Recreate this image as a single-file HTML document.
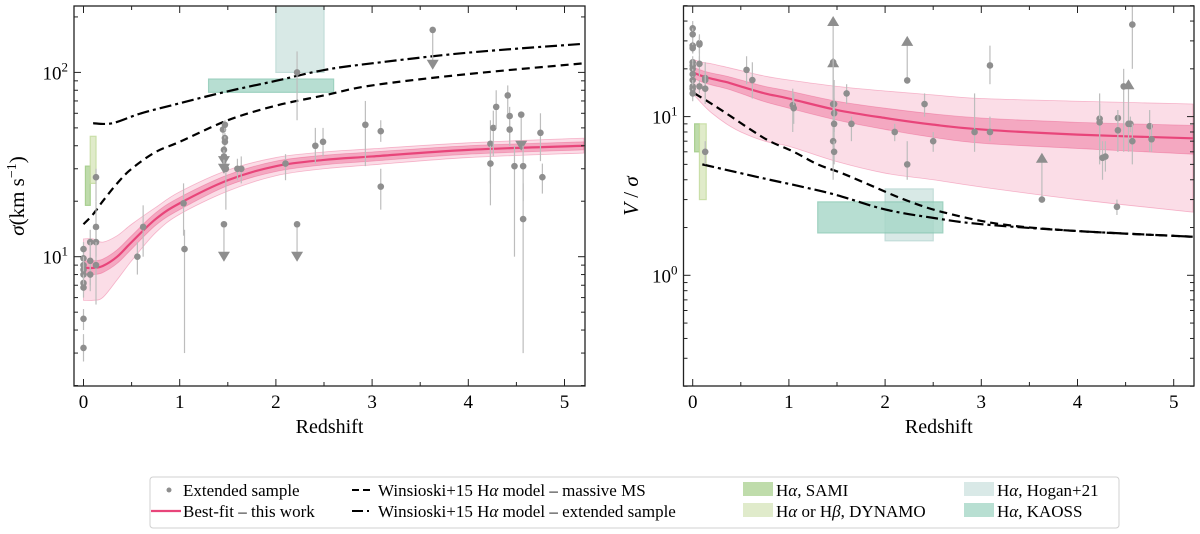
<!DOCTYPE html>
<html><head><meta charset="utf-8"><style>
body{margin:0;background:#fff;}
svg{display:block;font-family:"Liberation Serif",serif;}
</style></head><body>
<svg id="fig" width="1200" height="534" viewBox="0 0 1200 534"></svg>
<script>
// ---------- data ----------
const zGrid=[0,0.1,0.2,0.35,0.5,0.75,1,1.5,2,2.5,3,4,5.2];
const sigFit=[8.7,8.7,8.9,10,12,16,19.5,26,31,33.5,35,38,40];
const sigMassive=[15,17,20,25,30,37,42,55,66,75,85,98,112];
const zDD=[0.1,0.3,0.6,1,1.5,2,2.5,3,4,5.2];
const sigExt=[53,53,60,68,79,90,103,112,128,143];
const sigInLo=[8.0,8.0,8.2,9.2,11,14.8,18,24.3,29,31.5,33,36,38];
const sigInHi=[9.5,9.5,9.7,10.9,13,17.3,21,27.8,33,35.5,37,40,42];
const sigOutLo=[5.8,5.8,6.0,7.5,9.5,13.5,17,22.7,27.5,30,31.5,34.5,36.5];
const sigOutHi=[12.5,12.5,12,13,15,18.5,22.5,29.5,34.5,37,38.5,41.5,44];
const sigPts=[[0,11,10,12,0],[0,9.8,9,10.5,0],[0,9,8,10,0],[0,8.5,7.5,9.5,0],[0,8,7,9,0],[0,7.2,6.5,8,0],[0,6.8,6,7.5,0],[0,4.6,4,5.2,0],[0,3.2,2.7,3.8,0],
[0.07,12,10,14,0],[0.07,9.5,6.5,12,0],[0.07,8,7,9,0],[0.13,27,20,30,0],[0.13,14.5,12,20,0],[0.13,12,10,14,0],[0.13,9,5.5,12,0],
[0.56,10,8,12,0],[0.62,14.5,10,19,0],[1.04,19.5,13,25,0],[1.05,11,3,14,0],
[1.45,49,45,52,0],[1.47,52,48,55,0],[1.47,44,40,47,0],[1.47,42,38,45,0],[1.48,30,18,35,0],[1.46,38,33,40,1],[1.46,35,30,38,1],[1.46,15,10,15,1],
[1.6,30,26,34,0],[1.64,30,25,35,0],[2.1,32,26,36,0],[2.22,100,55,130,0],[2.22,15,10,15,1],[2.41,40,32,50,0],[2.49,42,35,50,0],
[2.93,52,31,70,0],[3.09,48,42,55,0],[3.09,24,18,30,0],[3.63,170,110,170,1],
[4.23,41,19,55,0],[4.23,32,25,40,0],[4.26,50,35,62,0],[4.29,65,50,80,0],[4.41,75,60,85,0],[4.43,58,40,65,0],[4.43,49,40,55,0],[4.48,31,10,40,0],[4.55,59,40,60,1],[4.57,31,20,40,0],[4.57,16,3,25,0],[4.75,47,33,60,0],[4.77,27,22,32,0]];
const vFit=[19,18,17.3,16.5,15.5,14,13,11,9.8,8.9,8.3,7.7,7.3];
const vInLo=[17.5,16.5,15.8,15,14,12.4,11.3,9.5,8.3,7.4,6.8,6.3,5.8];
const vInHi=[20.5,19.5,18.8,18,17,15.5,14.5,12.5,11.3,10.4,9.8,9.2,8.8];
const vOutLo=[14,12,10.5,9,8,7,6.5,5.2,4.4,4,3.6,3,2.5];
const vOutHi=[23,22,21.5,20.5,19.5,18,17,15.5,14.5,13.7,13,12.5,12];
const zVM=[0.02,0.2,0.4,0.6,0.8,1.05,1.3,1.55,1.8,2.2,2.6,3.2,4,5.2];
const vMassive=[14,12,10,8.3,7,6,5,4.4,3.8,3,2.5,2.1,1.9,1.75];
const zVE=[0.1,0.5,0.8,1.15,1.5,2,2.5,3,4,5.2];
const vExt=[5,4.4,4,3.6,3.2,2.6,2.3,2.1,1.9,1.75];
const vPts=[[0,36,32,40,0],[0,33,30,36,0],[0,28,25,30,0],[0,27,25,29,0],[0,22,20,24,0],[0,21,19,23,0],[0,20,18,22,0],[0,18.5,17,20,0],[0,17,15,18,0],[0,15.5,14,17,0],[0,15,13.5,16.5,0],[0,14,12.5,15,0],
[0.07,29,25,33,0],[0.07,28.5,20,32,0],[0.07,21.5,18,24,0],[0.07,15.5,14,17,0],[0.13,17.5,13,22,0],[0.13,17,15,19,0],[0.13,15,12,18,0],[0.13,6,5,7,0],
[0.56,19.7,16,24,0],[0.62,17,13,22,0],[1.04,11.8,8,15,0],[1.05,11.3,9,14,0],
[1.46,22,13,22,2],[1.46,12,4,40,2],[1.47,12,8,17,0],[1.47,10.5,8,13,0],[1.47,9,7,11,0],[1.46,7,6,8,0],[1.47,6,5,7,0],
[1.6,14,12,16,0],[1.65,9,7,10,0],[2.1,8,7,9,0],[2.23,16.9,16.9,30,2],[2.23,5,4,7,0],[2.41,12,10,14,0],[2.5,7,6,8,0],
[2.93,8,6,14,0],[3.09,8,7,10,0],[3.09,21,16,28,0],[3.63,3,3,5.5,2],
[4.23,9.7,6,14,0],[4.23,9.2,5,12,0],[4.26,5.5,4,7,0],[4.29,5.6,4.5,7,0],[4.41,2.7,2.4,3,0],[4.42,9.8,6,11,0],[4.42,8.2,6,11,0],[4.48,15.5,6,20,0],[4.53,9,6,16,2],[4.55,9,8,10,0],[4.57,7,5,9,0],[4.57,38,20,50,0],[4.75,8.7,6,11,0],[4.77,7.2,6,9,0]];
const boxesL=[["sami",0.02,0.07,19,31],["dynamo",0.07,0.13,25,45],["hogan",2.0,2.5,100,230],["kaoss",1.3,2.6,78,92]];
const boxesR=[["sami",0.02,0.07,6,9],["dynamo",0.07,0.14,3,9],["hogan",2.0,2.5,1.65,3.5],["kaoss",1.3,2.6,1.85,2.9]];
const boxCol={sami:["#b8d8a2","#9fca85",0.9],dynamo:["#dde9c5","#c5dca0",0.9],hogan:["#cfe4e1","#b5d5d0",0.8],kaoss:["#a6d7c7","#86c6b1",0.8]};

// ---------- helpers ----------
const svg=document.getElementById('fig');
const NS="http://www.w3.org/2000/svg";
function mk(tag,attrs,parent){const e=document.createElementNS(NS,tag);for(const k in attrs)e.setAttribute(k,attrs[k]);(parent||svg).appendChild(e);return e;}
function smooth(P,start){ // Catmull-Rom through points
  let d=(start?'M':'L')+P[0][0]+','+P[0][1];
  for(let i=0;i<P.length-1;i++){const p0=P[Math.max(i-1,0)],p1=P[i],p2=P[i+1],p3=P[Math.min(i+2,P.length-1)];
    d+=`C${p1[0]+(p2[0]-p0[0])/6},${p1[1]+(p2[1]-p0[1])/6} ${p2[0]-(p3[0]-p1[0])/6},${p2[1]-(p3[1]-p1[1])/6} ${p2[0]},${p2[1]}`;}
  return d;}
const L={x0:83.5,sx:96.2,y1:256.7,sy:184.3,v1:10,left:74,right:585,top:6,bot:386,vmin:2,vmax:230};
const R={x0:692.7,sx:96.2,y1:275.3,sy:158.7,v1:1,left:683.5,right:1194,top:6,bot:386,vmin:0.2,vmax:50};

function drawPanel(P,name,fit,inLo,inHi,outLo,outHi,zA,mA,zB,eB,pts,boxes,ylab,ylabX,decs){
  const X=z=>P.x0+P.sx*z;
  const Y=v=>P.y1-P.sy*Math.log10(v/P.v1);
  const g=mk('g',{});
  
  
  const clipId='clip'+name;
  const cp=mk('clipPath',{id:clipId},g);mk('rect',{x:P.left,y:P.top,width:P.right-P.left,height:P.bot-P.top},cp);
  const pg=mk('g',{'clip-path':'url(#'+clipId+')'},g);
  boxes.forEach(b=>{const c=boxCol[b[0]];
    const r=mk('rect',{x:X(b[1]),y:Y(b[4]),width:X(b[2])-X(b[1]),height:Y(b[3])-Y(b[4]),fill:c[0],stroke:c[1],'stroke-width':1.2,opacity:c[2]},pg);
    
    });
  const band=(lo,hi,fill,nm)=>{
    const top=zGrid.map((z,i)=>[X(z),Y(hi[i])]);
    const bot=zGrid.map((z,i)=>[X(z),Y(lo[i])]).reverse();
    const e=mk('path',{d:smooth(top,true)+smooth(bot,false)+'Z',fill:fill,stroke:'rgba(232,69,122,0.35)','stroke-width':0.8},pg);
    
    };
  band(outLo,outHi,'rgba(240,120,160,0.25)','fit-outer-band');
  band(inLo,inHi,'rgba(232,69,122,0.35)','fit-inner-band');
  const line=(zs,vs,attrs,nm)=>{const d=smooth(zs.map((z,i)=>[X(z),Y(vs[i])]),true);
    const e=mk('path',Object.assign({d:d,fill:'none'},attrs),pg);
    
    };
  line(zGrid,fit,{stroke:'#e8457a','stroke-width':2.2},'best-fit-line');
  line(zA,mA,{stroke:'#000','stroke-width':2.2,'stroke-dasharray':'8,5'},'massive-ms-model');
  line(zB,eB,{stroke:'#000','stroke-width':2.2,'stroke-dasharray':'12,4,3,4'},'extended-model');
  pts.forEach(p=>{const x=X(p[0]);
    mk('line',{x1:x,x2:x,y1:Y(p[2]),y2:Y(p[3]),stroke:'#bdbdbd','stroke-width':1.2},pg);
    if(p[4]===0){const c=mk('circle',{cx:x,cy:Y(p[1]),r:3.3,fill:'#8e8e8e'},pg);
      
      }
    else if(p[4]===1){const y=Y(p[2]);const t=mk('path',{d:`M${x-6},${y-5}L${x+6},${y-5}L${x},${y+5}Z`,fill:'#8e8e8e'},pg);
      if(p[1]!==p[2])mk('circle',{cx:x,cy:Y(p[1]),r:3.3,fill:'#8e8e8e'},pg);
      
      }
    else{const y=Y(p[3]);const t=mk('path',{d:`M${x-6},${y+5}L${x+6},${y+5}L${x},${y-5}Z`,fill:'#8e8e8e'},pg);
      mk('circle',{cx:x,cy:Y(p[1]),r:3.3,fill:'#8e8e8e'},pg);
      
      }
  });
  mk('rect',{x:P.left,y:P.top,width:P.right-P.left,height:P.bot-P.top,fill:'none',stroke:'#222','stroke-width':1.3},g);
  for(let z=0;z<=5;z++){const x=X(z);
    mk('line',{x1:x,x2:x,y1:P.bot,y2:P.bot-7,stroke:'#222'},g);mk('line',{x1:x,x2:x,y1:P.top,y2:P.top+7,stroke:'#222'},g);
    const t=mk('text',{x:x,y:P.bot+22,'text-anchor':'middle','font-size':19},g);t.textContent=z;
    
    }
  for(let z=0.5;z<5.2;z+=1){const x=X(z);mk('line',{x1:x,x2:x,y1:P.bot,y2:P.bot-4,stroke:'#222'},g);mk('line',{x1:x,x2:x,y1:P.top,y2:P.top+4,stroke:'#222'},g);}
  for(let e=-2;e<=3;e++)for(let m=1;m<10;m++){const v=m*Math.pow(10,e);if(v<P.vmin*0.999||v>P.vmax)continue;const y=Y(v);const len=m===1?7:4;
    mk('line',{x1:P.left,x2:P.left+len,y1:y,y2:y,stroke:'#222'},g);mk('line',{x1:P.right,x2:P.right-len,y1:y,y2:y,stroke:'#222'},g);}
  decs.forEach(e=>{const y=Y(Math.pow(10,e));const t=mk('text',{x:P.left-6,y:y+7,'text-anchor':'end','font-size':19},g);
    t.innerHTML='10<tspan dy="-8" font-size="13">'+e+'</tspan>';
    
    });
  const xl=mk('text',{x:(P.left+P.right)/2,y:P.bot+47,'text-anchor':'middle','font-size':20},g);xl.textContent='Redshift';
  
  
  const yl=mk('text',{x:ylabX,y:(P.top+P.bot)/2,'text-anchor':'middle','font-size':21,transform:`rotate(-90 ${ylabX} ${(P.top+P.bot)/2})`},g);yl.innerHTML=ylab;
  
  
}
drawPanel(L,'sigma',sigFit,sigInLo,sigInHi,sigOutLo,sigOutHi,zGrid,sigMassive,zDD,sigExt,sigPts,boxesL,'<tspan font-style="italic">σ</tspan>(km s<tspan dy="-8" font-size="14">−1</tspan><tspan dy="8">)</tspan>',24,[1,2]);
drawPanel(R,'vsigma',vFit,vInLo,vInHi,vOutLo,vOutHi,zVM,vMassive,zVE,vExt,vPts,boxesR,'<tspan font-style="italic">V</tspan> / <tspan font-style="italic">σ</tspan>',638,[0,1]);

// ---------- legend ----------
const lg=mk('g',{});


mk('rect',{x:150,y:477,width:969,height:51,rx:3,fill:'#fff',stroke:'#d0d0d0','stroke-width':1},lg);
const items=[
 ['pt',169,495,183,'Extended sample'],
 ['pink',150,516,183,'Best-fit – this work'],
 ['dash',352,495,378,'Winsioski+15 H<tspan font-style="italic">α</tspan> model – massive MS'],
 ['dd',352,516,378,'Winsioski+15 H<tspan font-style="italic">α</tspan> model – extended sample'],
 ['sami',743,495,776,'H<tspan font-style="italic">α</tspan>, SAMI'],
 ['dynamo',743,516,776,'H<tspan font-style="italic">α</tspan> or H<tspan font-style="italic">β</tspan>, DYNAMO'],
 ['hogan',964,495,997,'H<tspan font-style="italic">α</tspan>, Hogan+21'],
 ['kaoss',964,516,997,'H<tspan font-style="italic">α</tspan>, KAOSS']];
items.forEach(it=>{const [k,x,y,tx,txt]=it;const ge=mk('g',{},lg);
  
  
  if(k==='pt')mk('circle',{cx:x,cy:y-5,r:2.5,fill:'#8e8e8e'},ge);
  else if(k==='pink')mk('line',{x1:x+1,x2:x+31,y1:y-5,y2:y-5,stroke:'#e8457a','stroke-width':2.2},ge);
  else if(k==='dash')mk('line',{x1:x,x2:x+20,y1:y-5,y2:y-5,stroke:'#000','stroke-width':2,'stroke-dasharray':'7,4'},ge);
  else if(k==='dd')mk('line',{x1:x,x2:x+20,y1:y-5,y2:y-5,stroke:'#000','stroke-width':2,'stroke-dasharray':'11,4,2,4'},ge);
  else {const c=boxCol[k];mk('rect',{x:x,y:y-13,width:30,height:14,fill:c[0],opacity:c[2]},ge);}
  const t=mk('text',{x:tx,y:y+1,'font-size':17},ge);t.innerHTML=txt;});
</script>
</body></html>
